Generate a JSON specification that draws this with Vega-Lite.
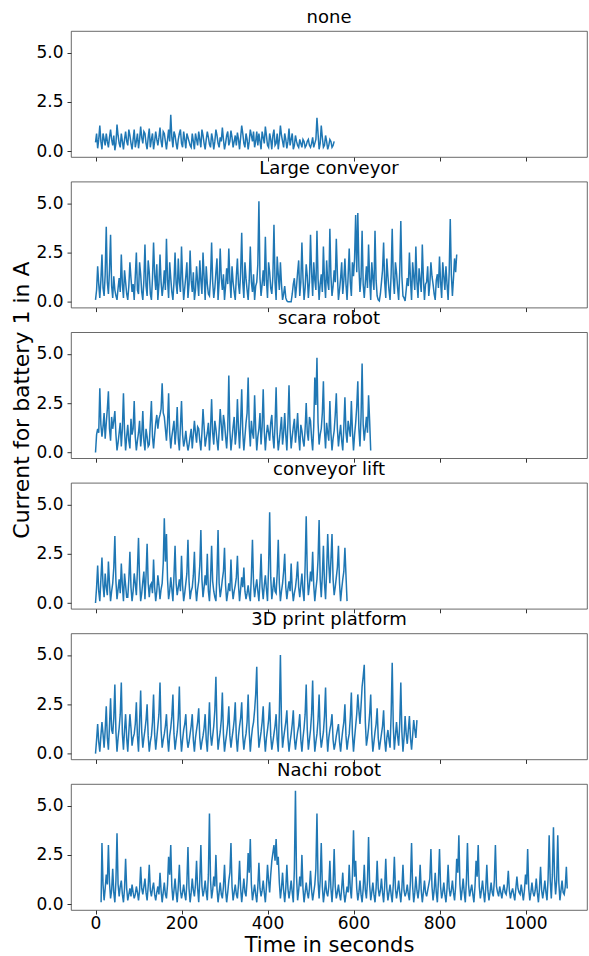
{
"$schema":"https://vega.github.io/schema/vega-lite/v6.json",
"padding":{"left":10,"top":8,"right":1,"bottom":0},
"bounds":"flush",
"spacing":24.6,
"background":"white",
"datasets":{
"none":[{"t":0,"v":0.45},{"t":2.5,"v":0.9},{"t":5,"v":0.15},{"t":7.5,"v":0.6},{"t":10,"v":1.3},{"t":12.5,"v":0.5},{"t":15,"v":0.1},{"t":17.5,"v":0.9},{"t":20,"v":0.6},{"t":22.5,"v":0.3},{"t":25,"v":0.9},{"t":27.5,"v":0.5},{"t":30,"v":0.2},{"t":32.5,"v":0.7},{"t":35,"v":1.1},{"t":37.5,"v":0.6},{"t":40,"v":0.3},{"t":42.5,"v":0.8},{"t":45,"v":0.05},{"t":47.5,"v":0.4},{"t":50,"v":1.35},{"t":52.5,"v":0.8},{"t":55,"v":0.4},{"t":57.5,"v":0.2},{"t":60,"v":0.9},{"t":62.5,"v":0.5},{"t":65,"v":0.1},{"t":67.5,"v":0.6},{"t":70,"v":1.0},{"t":72.5,"v":0.5},{"t":75,"v":0.3},{"t":77.5,"v":1.1},{"t":80,"v":0.8},{"t":82.5,"v":0.4},{"t":85,"v":0.1},{"t":87.5,"v":0.6},{"t":90,"v":1.1},{"t":92.5,"v":0.2},{"t":95,"v":0.5},{"t":97.5,"v":0.9},{"t":100,"v":0.15},{"t":102.5,"v":0.6},{"t":105,"v":1.25},{"t":107.5,"v":0.7},{"t":110,"v":0.4},{"t":112.5,"v":1.0},{"t":115,"v":0.9},{"t":117.5,"v":0.4},{"t":120,"v":0.1},{"t":122.5,"v":0.7},{"t":125,"v":1.15},{"t":127.5,"v":0.2},{"t":130,"v":0.6},{"t":132.5,"v":0.9},{"t":135,"v":0.1},{"t":137.5,"v":0.5},{"t":140,"v":1.0},{"t":142.5,"v":0.6},{"t":145,"v":0.3},{"t":147.5,"v":0.7},{"t":150,"v":1.2},{"t":152.5,"v":0.5},{"t":155,"v":0.2},{"t":157.5,"v":1.0},{"t":160,"v":0.9},{"t":162.5,"v":0.5},{"t":165,"v":0.1},{"t":167.5,"v":0.6},{"t":170,"v":1.1},{"t":172.5,"v":0.5},{"t":175,"v":1.85},{"t":177.5,"v":0.7},{"t":180,"v":0.2},{"t":182.5,"v":1.0},{"t":185,"v":0.8},{"t":187.5,"v":0.4},{"t":190,"v":0.1},{"t":192.5,"v":0.6},{"t":195,"v":0.9},{"t":197.5,"v":1.1},{"t":200,"v":0.4},{"t":202.5,"v":0.2},{"t":205,"v":1.0},{"t":207.5,"v":0.6},{"t":210,"v":0.15},{"t":212.5,"v":0.9},{"t":215,"v":0.7},{"t":217.5,"v":0.5},{"t":220,"v":0.3},{"t":222.5,"v":0.2},{"t":225,"v":0.9},{"t":227.5,"v":0.5},{"t":230,"v":0.1},{"t":232.5,"v":0.9},{"t":235,"v":0.6},{"t":237.5,"v":0.3},{"t":240,"v":1.0},{"t":242.5,"v":0.6},{"t":245,"v":0.2},{"t":247.5,"v":1.1},{"t":250,"v":0.8},{"t":252.5,"v":0.4},{"t":255,"v":0.1},{"t":257.5,"v":0.6},{"t":260,"v":1.0},{"t":262.5,"v":0.7},{"t":265,"v":0.35},{"t":267.5,"v":0.2},{"t":270,"v":0.9},{"t":272.5,"v":0.6},{"t":275,"v":0.1},{"t":277.5,"v":0.5},{"t":280,"v":1.1},{"t":282.5,"v":0.8},{"t":285,"v":0.4},{"t":287.5,"v":0.2},{"t":290,"v":0.7},{"t":292.5,"v":0.5},{"t":295,"v":1.2},{"t":297.5,"v":0.6},{"t":300,"v":0.1},{"t":302.5,"v":0.4},{"t":305,"v":0.8},{"t":307.5,"v":1.0},{"t":310,"v":0.3},{"t":312.5,"v":0.5},{"t":315,"v":1.05},{"t":317.5,"v":0.7},{"t":320,"v":0.2},{"t":322.5,"v":0.5},{"t":325,"v":0.8},{"t":327.5,"v":0.3},{"t":330,"v":0.95},{"t":332.5,"v":0.6},{"t":335,"v":0.1},{"t":337.5,"v":0.7},{"t":340,"v":1.3},{"t":342.5,"v":0.9},{"t":345,"v":0.4},{"t":347.5,"v":0.2},{"t":350,"v":0.9},{"t":352.5,"v":0.6},{"t":355,"v":0.1},{"t":357.5,"v":0.5},{"t":360,"v":1.1},{"t":362.5,"v":0.8},{"t":365,"v":0.5},{"t":367.5,"v":1.0},{"t":370,"v":0.2},{"t":372.5,"v":0.5},{"t":375,"v":1.0},{"t":377.5,"v":0.3},{"t":380,"v":0.9},{"t":382.5,"v":0.5},{"t":385,"v":0.1},{"t":387.5,"v":1.0},{"t":390,"v":0.7},{"t":392.5,"v":0.4},{"t":395,"v":1.25},{"t":397.5,"v":0.8},{"t":400,"v":0.3},{"t":402.5,"v":0.2},{"t":405,"v":0.9},{"t":407.5,"v":0.6},{"t":410,"v":0.1},{"t":412.5,"v":0.8},{"t":415,"v":1.1},{"t":417.5,"v":0.3},{"t":420,"v":0.4},{"t":422.5,"v":0.9},{"t":425,"v":0.1},{"t":427.5,"v":0.6},{"t":430,"v":1.3},{"t":432.5,"v":0.8},{"t":435,"v":0.5},{"t":437.5,"v":0.2},{"t":440,"v":0.9},{"t":442.5,"v":0.6},{"t":445,"v":0.15},{"t":447.5,"v":0.5},{"t":450,"v":1.15},{"t":452.5,"v":0.3},{"t":455,"v":0.6},{"t":457.5,"v":0.9},{"t":460,"v":0.1},{"t":462.5,"v":0.3},{"t":465,"v":0.8},{"t":467.5,"v":0.5},{"t":470,"v":0.3},{"t":472.5,"v":0.2},{"t":475,"v":0.6},{"t":477.5,"v":0.4},{"t":480,"v":0.2},{"t":482.5,"v":0.6},{"t":485,"v":0.5},{"t":487.5,"v":0.2},{"t":490,"v":0.3},{"t":492.5,"v":0.5},{"t":495,"v":0.6},{"t":497.5,"v":0.3},{"t":500,"v":0.2},{"t":502.5,"v":0.4},{"t":505,"v":0.7},{"t":507.5,"v":0.2},{"t":510,"v":0.4},{"t":512.5,"v":0.6},{"t":515,"v":1.7},{"t":517.5,"v":0.9},{"t":520,"v":0.1},{"t":522.5,"v":0.4},{"t":525,"v":1.3},{"t":527.5,"v":0.7},{"t":530,"v":0.2},{"t":532.5,"v":0.3},{"t":535,"v":0.8},{"t":537.5,"v":0.5},{"t":540,"v":0.1},{"t":542.5,"v":0.3},{"t":545,"v":0.6},{"t":547.5,"v":0.5},{"t":550,"v":0.2},{"t":552.5,"v":0.3},{"t":555,"v":0.5}],
"lc":[{"t":0,"v":0.1},{"t":2.5,"v":0.6},{"t":5,"v":1.8},{"t":7.5,"v":0.9},{"t":10,"v":0.2},{"t":12.5,"v":1.1},{"t":15,"v":2.4},{"t":17.5,"v":0.7},{"t":20,"v":0.3},{"t":22.5,"v":1.4},{"t":25,"v":3.8},{"t":27.5,"v":1.0},{"t":30,"v":0.4},{"t":32.5,"v":1.6},{"t":35,"v":3.4},{"t":37.5,"v":0.8},{"t":40,"v":0.2},{"t":42.5,"v":1.3},{"t":45,"v":0.6},{"t":47.5,"v":0.3},{"t":50,"v":0.1},{"t":52.5,"v":0.7},{"t":55,"v":1.2},{"t":57.5,"v":0.5},{"t":60,"v":2.4},{"t":62.5,"v":0.9},{"t":65,"v":0.2},{"t":67.5,"v":1.6},{"t":70,"v":1.0},{"t":72.5,"v":0.4},{"t":75,"v":0.1},{"t":77.5,"v":0.8},{"t":80,"v":2.0},{"t":82.5,"v":1.2},{"t":85,"v":0.5},{"t":87.5,"v":0.9},{"t":90,"v":0.1},{"t":92.5,"v":1.3},{"t":95,"v":2.5},{"t":97.5,"v":0.6},{"t":100,"v":0.4},{"t":102.5,"v":2.0},{"t":105,"v":1.4},{"t":107.5,"v":0.5},{"t":110,"v":0.1},{"t":112.5,"v":1.1},{"t":115,"v":2.9},{"t":117.5,"v":0.8},{"t":120,"v":0.3},{"t":122.5,"v":2.1},{"t":125,"v":1.5},{"t":127.5,"v":0.4},{"t":130,"v":0.1},{"t":132.5,"v":1.2},{"t":135,"v":3.0},{"t":137.5,"v":1.4},{"t":140,"v":0.6},{"t":142.5,"v":1.9},{"t":145,"v":0.1},{"t":147.5,"v":0.9},{"t":150,"v":2.4},{"t":152.5,"v":1.0},{"t":155,"v":0.3},{"t":157.5,"v":0.8},{"t":160,"v":1.6},{"t":162.5,"v":0.6},{"t":165,"v":3.2},{"t":167.5,"v":1.1},{"t":170,"v":0.2},{"t":172.5,"v":2.0},{"t":175,"v":1.2},{"t":177.5,"v":0.5},{"t":180,"v":0.1},{"t":182.5,"v":1.0},{"t":185,"v":2.5},{"t":187.5,"v":0.9},{"t":190,"v":0.4},{"t":192.5,"v":2.2},{"t":195,"v":1.0},{"t":197.5,"v":0.5},{"t":200,"v":2.8},{"t":202.5,"v":1.2},{"t":205,"v":0.1},{"t":207.5,"v":0.7},{"t":210,"v":1.3},{"t":212.5,"v":2.0},{"t":215,"v":0.2},{"t":217.5,"v":0.9},{"t":220,"v":2.6},{"t":222.5,"v":1.1},{"t":225,"v":0.5},{"t":227.5,"v":1.5},{"t":230,"v":0.1},{"t":232.5,"v":0.6},{"t":235,"v":1.8},{"t":237.5,"v":1.0},{"t":240,"v":0.3},{"t":242.5,"v":2.1},{"t":245,"v":1.1},{"t":247.5,"v":0.4},{"t":250,"v":2.5},{"t":252.5,"v":1.3},{"t":255,"v":0.1},{"t":257.5,"v":1.8},{"t":260,"v":0.9},{"t":262.5,"v":0.4},{"t":265,"v":0.3},{"t":267.5,"v":1.2},{"t":270,"v":3.0},{"t":272.5,"v":1.0},{"t":275,"v":0.2},{"t":277.5,"v":0.7},{"t":280,"v":1.5},{"t":282.5,"v":2.2},{"t":285,"v":0.1},{"t":287.5,"v":1.0},{"t":290,"v":2.7},{"t":292.5,"v":1.2},{"t":295,"v":0.6},{"t":297.5,"v":1.4},{"t":300,"v":0.1},{"t":302.5,"v":0.8},{"t":305,"v":1.7},{"t":307.5,"v":0.9},{"t":310,"v":2.7},{"t":312.5,"v":1.1},{"t":315,"v":0.2},{"t":317.5,"v":1.8},{"t":320,"v":1.0},{"t":322.5,"v":0.5},{"t":325,"v":0.1},{"t":327.5,"v":1.3},{"t":330,"v":2.2},{"t":332.5,"v":0.9},{"t":335,"v":0.4},{"t":337.5,"v":1.5},{"t":340,"v":3.5},{"t":342.5,"v":1.0},{"t":345,"v":0.2},{"t":347.5,"v":2.0},{"t":350,"v":1.2},{"t":352.5,"v":0.6},{"t":355,"v":0.1},{"t":357.5,"v":1.1},{"t":360,"v":2.8},{"t":362.5,"v":1.0},{"t":365,"v":0.5},{"t":367.5,"v":1.4},{"t":370,"v":0.1},{"t":372.5,"v":0.8},{"t":375,"v":1.0},{"t":377.5,"v":1.9},{"t":380,"v":5.1},{"t":382.5,"v":1.2},{"t":385,"v":0.3},{"t":387.5,"v":0.9},{"t":390,"v":1.6},{"t":392.5,"v":0.8},{"t":395,"v":3.3},{"t":397.5,"v":1.1},{"t":400,"v":0.2},{"t":402.5,"v":2.0},{"t":405,"v":1.5},{"t":407.5,"v":0.7},{"t":410,"v":0.4},{"t":412.5,"v":1.3},{"t":415,"v":3.9},{"t":417.5,"v":1.0},{"t":420,"v":0.1},{"t":422.5,"v":2.3},{"t":425,"v":1.4},{"t":427.5,"v":0.6},{"t":430,"v":2.0},{"t":432.5,"v":0.9},{"t":435,"v":0.1},{"t":437.5,"v":0.4},{"t":440,"v":0.8},{"t":442.5,"v":0.2},{"t":445,"v":0.05},{"t":447.5,"v":0.0},{"t":450,"v":0.0},{"t":452.5,"v":0.0},{"t":455,"v":0.0},{"t":457.5,"v":0.4},{"t":460,"v":0.9},{"t":462.5,"v":1.2},{"t":465,"v":0.2},{"t":467.5,"v":0.8},{"t":470,"v":1.5},{"t":472.5,"v":2.1},{"t":475,"v":0.3},{"t":477.5,"v":1.0},{"t":480,"v":3.0},{"t":482.5,"v":1.2},{"t":485,"v":0.1},{"t":487.5,"v":0.7},{"t":490,"v":1.9},{"t":492.5,"v":1.3},{"t":495,"v":0.2},{"t":497.5,"v":1.0},{"t":500,"v":3.4},{"t":502.5,"v":1.5},{"t":505,"v":0.3},{"t":507.5,"v":2.0},{"t":510,"v":1.1},{"t":512.5,"v":0.6},{"t":515,"v":3.6},{"t":517.5,"v":1.2},{"t":520,"v":0.1},{"t":522.5,"v":0.9},{"t":525,"v":1.4},{"t":527.5,"v":0.5},{"t":530,"v":2.8},{"t":532.5,"v":1.1},{"t":535,"v":0.2},{"t":537.5,"v":2.1},{"t":540,"v":1.0},{"t":542.5,"v":0.6},{"t":545,"v":3.7},{"t":547.5,"v":1.3},{"t":550,"v":0.3},{"t":552.5,"v":0.8},{"t":555,"v":1.6},{"t":557.5,"v":1.0},{"t":560,"v":3.2},{"t":562.5,"v":1.4},{"t":565,"v":0.1},{"t":567.5,"v":0.6},{"t":570,"v":1.2},{"t":572.5,"v":2.0},{"t":575,"v":0.4},{"t":577.5,"v":1.1},{"t":580,"v":2.2},{"t":582.5,"v":0.9},{"t":585,"v":0.1},{"t":587.5,"v":1.3},{"t":590,"v":2.7},{"t":592.5,"v":1.0},{"t":595,"v":0.3},{"t":597.5,"v":2.0},{"t":600,"v":1.3},{"t":602.5,"v":2.2},{"t":605,"v":4.4},{"t":607.5,"v":1.5},{"t":610,"v":4.5},{"t":612.5,"v":1.8},{"t":615,"v":0.5},{"t":617.5,"v":1.2},{"t":620,"v":3.6},{"t":622.5,"v":0.9},{"t":625,"v":0.2},{"t":627.5,"v":1.0},{"t":630,"v":1.8},{"t":632.5,"v":0.7},{"t":635,"v":2.9},{"t":637.5,"v":1.2},{"t":640,"v":0.1},{"t":642.5,"v":2.0},{"t":645,"v":1.2},{"t":647.5,"v":0.6},{"t":650,"v":3.6},{"t":652.5,"v":1.1},{"t":655,"v":0.3},{"t":657.5,"v":0.1},{"t":660,"v":0.05},{"t":662.5,"v":0.4},{"t":665,"v":1.0},{"t":667.5,"v":1.6},{"t":670,"v":3.0},{"t":672.5,"v":1.0},{"t":675,"v":0.2},{"t":677.5,"v":2.2},{"t":680,"v":1.3},{"t":682.5,"v":0.6},{"t":685,"v":0.1},{"t":687.5,"v":1.4},{"t":690,"v":3.7},{"t":692.5,"v":1.2},{"t":695,"v":0.4},{"t":697.5,"v":2.0},{"t":700,"v":1.5},{"t":702.5,"v":0.7},{"t":705,"v":0.1},{"t":707.5,"v":1.5},{"t":710,"v":4.1},{"t":712.5,"v":1.3},{"t":715,"v":0.3},{"t":717.5,"v":0.2},{"t":720,"v":0.05},{"t":722.5,"v":0.6},{"t":725,"v":1.2},{"t":727.5,"v":0.8},{"t":730,"v":2.5},{"t":732.5,"v":1.1},{"t":735,"v":0.1},{"t":737.5,"v":2.0},{"t":740,"v":1.3},{"t":742.5,"v":0.6},{"t":745,"v":2.8},{"t":747.5,"v":1.0},{"t":750,"v":0.2},{"t":752.5,"v":1.7},{"t":755,"v":1.1},{"t":757.5,"v":0.5},{"t":760,"v":2.9},{"t":762.5,"v":1.2},{"t":765,"v":0.1},{"t":767.5,"v":0.9},{"t":770,"v":1.0},{"t":772.5,"v":1.8},{"t":775,"v":0.3},{"t":777.5,"v":0.9},{"t":780,"v":2.0},{"t":782.5,"v":1.3},{"t":785,"v":0.9},{"t":787.5,"v":0.4},{"t":790,"v":0.1},{"t":792.5,"v":1.1},{"t":795,"v":1.4},{"t":797.5,"v":0.7},{"t":800,"v":2.3},{"t":802.5,"v":1.0},{"t":805,"v":0.2},{"t":807.5,"v":2.0},{"t":810,"v":1.3},{"t":812.5,"v":0.6},{"t":815,"v":1.8},{"t":817.5,"v":0.9},{"t":820,"v":0.1},{"t":822.5,"v":1.5},{"t":825,"v":4.2},{"t":827.5,"v":1.4},{"t":830,"v":0.3},{"t":832.5,"v":1.2},{"t":835,"v":2.2},{"t":837.5,"v":1.5},{"t":840,"v":2.4}],
"sc":[{"t":0,"v":0.0},{"t":2.5,"v":0.9},{"t":5,"v":1.2},{"t":7.5,"v":1.0},{"t":10,"v":3.25},{"t":12.5,"v":1.4},{"t":15,"v":0.8},{"t":17.5,"v":1.3},{"t":20,"v":2.0},{"t":22.5,"v":0.7},{"t":25,"v":1.5},{"t":27.5,"v":2.2},{"t":30,"v":3.1},{"t":32.5,"v":1.2},{"t":35,"v":0.6},{"t":37.5,"v":1.8},{"t":40,"v":1.2},{"t":42.5,"v":1.6},{"t":45,"v":2.1},{"t":47.5,"v":0.9},{"t":50,"v":0.1},{"t":52.5,"v":0.5},{"t":55,"v":1.0},{"t":57.5,"v":1.5},{"t":60,"v":0.3},{"t":62.5,"v":1.2},{"t":65,"v":3.0},{"t":67.5,"v":1.1},{"t":70,"v":0.1},{"t":72.5,"v":0.8},{"t":75,"v":1.4},{"t":77.5,"v":0.6},{"t":80,"v":0.2},{"t":82.5,"v":1.7},{"t":85,"v":0.9},{"t":87.5,"v":1.2},{"t":90,"v":2.6},{"t":92.5,"v":0.8},{"t":95,"v":0.1},{"t":97.5,"v":0.6},{"t":100,"v":1.0},{"t":102.5,"v":1.6},{"t":105,"v":0.3},{"t":107.5,"v":0.9},{"t":110,"v":2.1},{"t":112.5,"v":0.6},{"t":115,"v":0.1},{"t":117.5,"v":1.2},{"t":120,"v":0.8},{"t":122.5,"v":0.3},{"t":125,"v":0.4},{"t":127.5,"v":1.5},{"t":130,"v":2.6},{"t":132.5,"v":0.8},{"t":135,"v":0.2},{"t":137.5,"v":0.9},{"t":140,"v":1.5},{"t":142.5,"v":1.9},{"t":145,"v":1.2},{"t":147.5,"v":1.7},{"t":150,"v":1.9},{"t":152.5,"v":2.2},{"t":155,"v":3.5},{"t":157.5,"v":2.0},{"t":160,"v":1.8},{"t":162.5,"v":1.2},{"t":165,"v":0.6},{"t":167.5,"v":1.5},{"t":170,"v":3.0},{"t":172.5,"v":1.0},{"t":175,"v":0.2},{"t":177.5,"v":0.8},{"t":180,"v":1.2},{"t":182.5,"v":1.6},{"t":185,"v":0.4},{"t":187.5,"v":1.1},{"t":190,"v":2.3},{"t":192.5,"v":0.7},{"t":195,"v":0.1},{"t":197.5,"v":1.3},{"t":200,"v":2.6},{"t":202.5,"v":0.9},{"t":205,"v":0.3},{"t":207.5,"v":0.6},{"t":210,"v":1.1},{"t":212.5,"v":0.5},{"t":215,"v":0.1},{"t":217.5,"v":0.4},{"t":220,"v":0.8},{"t":222.5,"v":1.2},{"t":225,"v":0.2},{"t":227.5,"v":0.9},{"t":230,"v":1.6},{"t":232.5,"v":1.0},{"t":235,"v":0.5},{"t":237.5,"v":1.3},{"t":240,"v":1.2},{"t":242.5,"v":0.6},{"t":245,"v":0.1},{"t":247.5,"v":1.0},{"t":250,"v":2.2},{"t":252.5,"v":1.3},{"t":255,"v":0.3},{"t":257.5,"v":0.7},{"t":260,"v":1.0},{"t":262.5,"v":1.5},{"t":265,"v":0.1},{"t":267.5,"v":1.2},{"t":270,"v":2.7},{"t":272.5,"v":1.0},{"t":275,"v":0.4},{"t":277.5,"v":1.6},{"t":280,"v":1.2},{"t":282.5,"v":0.6},{"t":285,"v":0.1},{"t":287.5,"v":1.1},{"t":290,"v":2.2},{"t":292.5,"v":1.4},{"t":295,"v":0.6},{"t":297.5,"v":1.9},{"t":300,"v":1.5},{"t":302.5,"v":0.8},{"t":305,"v":0.2},{"t":307.5,"v":1.2},{"t":310,"v":3.9},{"t":312.5,"v":1.1},{"t":315,"v":0.1},{"t":317.5,"v":0.7},{"t":320,"v":1.3},{"t":322.5,"v":1.8},{"t":325,"v":0.4},{"t":327.5,"v":1.0},{"t":330,"v":2.7},{"t":332.5,"v":1.2},{"t":335,"v":0.2},{"t":337.5,"v":1.5},{"t":340,"v":3.2},{"t":342.5,"v":1.0},{"t":345,"v":0.1},{"t":347.5,"v":0.8},{"t":350,"v":1.5},{"t":352.5,"v":2.0},{"t":355,"v":3.8},{"t":357.5,"v":1.3},{"t":360,"v":0.3},{"t":362.5,"v":1.6},{"t":365,"v":1.0},{"t":367.5,"v":0.7},{"t":370,"v":2.9},{"t":372.5,"v":1.2},{"t":375,"v":0.1},{"t":377.5,"v":0.8},{"t":380,"v":1.2},{"t":382.5,"v":2.0},{"t":385,"v":0.4},{"t":387.5,"v":1.3},{"t":390,"v":3.2},{"t":392.5,"v":1.1},{"t":395,"v":0.1},{"t":397.5,"v":0.9},{"t":400,"v":1.4},{"t":402.5,"v":1.0},{"t":405,"v":0.6},{"t":407.5,"v":1.5},{"t":410,"v":1.9},{"t":412.5,"v":0.8},{"t":415,"v":0.2},{"t":417.5,"v":1.4},{"t":420,"v":3.3},{"t":422.5,"v":1.0},{"t":425,"v":0.1},{"t":427.5,"v":0.6},{"t":430,"v":1.2},{"t":432.5,"v":1.8},{"t":435,"v":0.4},{"t":437.5,"v":1.0},{"t":440,"v":2.0},{"t":442.5,"v":0.9},{"t":445,"v":0.1},{"t":447.5,"v":1.5},{"t":450,"v":3.4},{"t":452.5,"v":1.2},{"t":455,"v":0.2},{"t":457.5,"v":0.8},{"t":460,"v":1.3},{"t":462.5,"v":1.7},{"t":465,"v":0.5},{"t":467.5,"v":1.1},{"t":470,"v":2.0},{"t":472.5,"v":0.8},{"t":475,"v":0.1},{"t":477.5,"v":1.4},{"t":480,"v":1.1},{"t":482.5,"v":0.6},{"t":485,"v":0.3},{"t":487.5,"v":1.2},{"t":490,"v":2.5},{"t":492.5,"v":1.0},{"t":495,"v":0.6},{"t":497.5,"v":1.8},{"t":500,"v":1.6},{"t":502.5,"v":0.7},{"t":505,"v":0.1},{"t":507.5,"v":1.3},{"t":510,"v":3.8},{"t":512.5,"v":2.4},{"t":515,"v":4.8},{"t":517.5,"v":1.5},{"t":520,"v":0.4},{"t":522.5,"v":0.9},{"t":525,"v":1.2},{"t":527.5,"v":2.0},{"t":530,"v":3.6},{"t":532.5,"v":1.1},{"t":535,"v":0.2},{"t":537.5,"v":1.5},{"t":540,"v":1.0},{"t":542.5,"v":0.6},{"t":545,"v":2.6},{"t":547.5,"v":1.0},{"t":550,"v":0.1},{"t":552.5,"v":0.7},{"t":555,"v":1.1},{"t":557.5,"v":1.9},{"t":560,"v":3.0},{"t":562.5,"v":1.2},{"t":565,"v":0.3},{"t":567.5,"v":0.9},{"t":570,"v":1.4},{"t":572.5,"v":0.6},{"t":575,"v":0.1},{"t":577.5,"v":1.3},{"t":580,"v":2.8},{"t":582.5,"v":1.0},{"t":585,"v":0.5},{"t":587.5,"v":1.6},{"t":590,"v":1.2},{"t":592.5,"v":0.8},{"t":595,"v":2.6},{"t":597.5,"v":1.1},{"t":600,"v":0.1},{"t":602.5,"v":0.9},{"t":605,"v":1.5},{"t":607.5,"v":2.3},{"t":610,"v":3.6},{"t":612.5,"v":1.2},{"t":615,"v":0.3},{"t":617.5,"v":1.8},{"t":620,"v":4.5},{"t":622.5,"v":1.4},{"t":625,"v":0.6},{"t":627.5,"v":1.2},{"t":630,"v":1.8},{"t":632.5,"v":1.0},{"t":635,"v":2.9},{"t":637.5,"v":1.6},{"t":640,"v":0.1}],
"cl":[{"t":0,"v":0.0},{"t":2.5,"v":0.8},{"t":5,"v":1.9},{"t":7.5,"v":0.6},{"t":10,"v":0.1},{"t":12.5,"v":1.2},{"t":15,"v":2.3},{"t":17.5,"v":0.9},{"t":20,"v":0.3},{"t":22.5,"v":1.5},{"t":25,"v":0.8},{"t":27.5,"v":0.4},{"t":30,"v":2.1},{"t":32.5,"v":1.0},{"t":35,"v":0.1},{"t":37.5,"v":0.6},{"t":40,"v":1.0},{"t":42.5,"v":1.8},{"t":45,"v":3.4},{"t":47.5,"v":1.1},{"t":50,"v":0.2},{"t":52.5,"v":0.7},{"t":55,"v":1.2},{"t":57.5,"v":0.5},{"t":60,"v":2.0},{"t":62.5,"v":0.9},{"t":65,"v":0.1},{"t":67.5,"v":1.5},{"t":70,"v":0.9},{"t":72.5,"v":0.3},{"t":75,"v":0.3},{"t":77.5,"v":1.2},{"t":80,"v":2.6},{"t":82.5,"v":0.8},{"t":85,"v":0.1},{"t":87.5,"v":0.6},{"t":90,"v":1.5},{"t":92.5,"v":1.0},{"t":95,"v":0.4},{"t":97.5,"v":1.7},{"t":100,"v":3.3},{"t":102.5,"v":1.2},{"t":105,"v":0.1},{"t":107.5,"v":0.5},{"t":110,"v":1.1},{"t":112.5,"v":1.6},{"t":115,"v":0.2},{"t":117.5,"v":1.4},{"t":120,"v":3.0},{"t":122.5,"v":1.0},{"t":125,"v":0.3},{"t":127.5,"v":0.9},{"t":130,"v":1.0},{"t":132.5,"v":0.5},{"t":135,"v":2.2},{"t":137.5,"v":0.8},{"t":140,"v":0.1},{"t":142.5,"v":0.6},{"t":145,"v":1.4},{"t":147.5,"v":0.9},{"t":150,"v":0.2},{"t":152.5,"v":0.7},{"t":155,"v":1.0},{"t":157.5,"v":2.0},{"t":160,"v":4.3},{"t":162.5,"v":2.1},{"t":165,"v":3.5},{"t":167.5,"v":1.2},{"t":170,"v":0.2},{"t":172.5,"v":0.6},{"t":175,"v":1.3},{"t":177.5,"v":0.7},{"t":180,"v":0.1},{"t":182.5,"v":1.4},{"t":185,"v":2.9},{"t":187.5,"v":1.0},{"t":190,"v":0.4},{"t":192.5,"v":0.8},{"t":195,"v":1.2},{"t":197.5,"v":0.6},{"t":200,"v":2.4},{"t":202.5,"v":0.9},{"t":205,"v":0.1},{"t":207.5,"v":0.5},{"t":210,"v":1.0},{"t":212.5,"v":1.5},{"t":215,"v":3.2},{"t":217.5,"v":1.1},{"t":220,"v":0.2},{"t":222.5,"v":0.6},{"t":225,"v":0.8},{"t":227.5,"v":1.4},{"t":230,"v":2.6},{"t":232.5,"v":0.8},{"t":235,"v":0.1},{"t":237.5,"v":0.7},{"t":240,"v":1.1},{"t":242.5,"v":1.9},{"t":245,"v":3.7},{"t":247.5,"v":1.2},{"t":250,"v":0.3},{"t":252.5,"v":0.8},{"t":255,"v":1.4},{"t":257.5,"v":0.9},{"t":260,"v":2.5},{"t":262.5,"v":0.6},{"t":265,"v":0.1},{"t":267.5,"v":1.2},{"t":270,"v":2.9},{"t":272.5,"v":1.1},{"t":275,"v":0.6},{"t":277.5,"v":0.3},{"t":280,"v":0.1},{"t":282.5,"v":1.5},{"t":285,"v":3.7},{"t":287.5,"v":1.0},{"t":290,"v":0.3},{"t":292.5,"v":0.7},{"t":295,"v":1.2},{"t":297.5,"v":1.6},{"t":300,"v":2.8},{"t":302.5,"v":0.9},{"t":305,"v":0.1},{"t":307.5,"v":0.5},{"t":310,"v":1.0},{"t":312.5,"v":0.6},{"t":315,"v":2.2},{"t":317.5,"v":0.8},{"t":320,"v":0.2},{"t":322.5,"v":0.6},{"t":325,"v":0.9},{"t":327.5,"v":1.3},{"t":330,"v":2.4},{"t":332.5,"v":0.9},{"t":335,"v":0.1},{"t":337.5,"v":0.7},{"t":340,"v":1.3},{"t":342.5,"v":0.8},{"t":345,"v":1.8},{"t":347.5,"v":0.6},{"t":350,"v":0.2},{"t":352.5,"v":0.5},{"t":355,"v":0.9},{"t":357.5,"v":0.4},{"t":360,"v":0.1},{"t":362.5,"v":1.4},{"t":365,"v":3.2},{"t":367.5,"v":1.0},{"t":370,"v":0.3},{"t":372.5,"v":0.8},{"t":375,"v":1.2},{"t":377.5,"v":0.6},{"t":380,"v":0.1},{"t":382.5,"v":1.1},{"t":385,"v":2.5},{"t":387.5,"v":0.8},{"t":390,"v":0.2},{"t":392.5,"v":0.9},{"t":395,"v":1.4},{"t":397.5,"v":0.7},{"t":400,"v":0.1},{"t":402.5,"v":1.8},{"t":405,"v":4.6},{"t":407.5,"v":1.3},{"t":410,"v":0.2},{"t":412.5,"v":0.7},{"t":415,"v":1.3},{"t":417.5,"v":0.6},{"t":420,"v":0.5},{"t":422.5,"v":1.5},{"t":425,"v":3.2},{"t":427.5,"v":1.0},{"t":430,"v":0.1},{"t":432.5,"v":0.6},{"t":435,"v":1.0},{"t":437.5,"v":1.6},{"t":440,"v":2.5},{"t":442.5,"v":0.8},{"t":445,"v":0.2},{"t":447.5,"v":0.7},{"t":450,"v":1.1},{"t":452.5,"v":0.6},{"t":455,"v":2.0},{"t":457.5,"v":0.7},{"t":460,"v":0.1},{"t":462.5,"v":0.5},{"t":465,"v":0.8},{"t":467.5,"v":1.3},{"t":470,"v":2.1},{"t":472.5,"v":0.8},{"t":475,"v":0.3},{"t":477.5,"v":0.9},{"t":480,"v":1.5},{"t":482.5,"v":0.6},{"t":485,"v":0.1},{"t":487.5,"v":1.9},{"t":490,"v":4.4},{"t":492.5,"v":1.5},{"t":495,"v":0.4},{"t":497.5,"v":0.9},{"t":500,"v":1.6},{"t":502.5,"v":1.1},{"t":505,"v":2.6},{"t":507.5,"v":0.9},{"t":510,"v":0.1},{"t":512.5,"v":0.7},{"t":515,"v":1.2},{"t":517.5,"v":2.2},{"t":520,"v":4.2},{"t":522.5,"v":1.2},{"t":525,"v":0.3},{"t":527.5,"v":1.4},{"t":530,"v":2.9},{"t":532.5,"v":1.0},{"t":535,"v":0.2},{"t":537.5,"v":1.6},{"t":540,"v":3.5},{"t":542.5,"v":2.0},{"t":545,"v":1.0},{"t":547.5,"v":2.2},{"t":550,"v":3.5},{"t":552.5,"v":1.2},{"t":555,"v":0.4},{"t":557.5,"v":0.8},{"t":560,"v":1.3},{"t":562.5,"v":1.8},{"t":565,"v":2.9},{"t":567.5,"v":1.0},{"t":570,"v":0.1},{"t":572.5,"v":0.7},{"t":575,"v":1.2},{"t":577.5,"v":1.6},{"t":580,"v":2.8},{"t":582.5,"v":1.4},{"t":585,"v":0.1}],
"p3d":[{"t":0,"v":0.0},{"t":2.5,"v":0.7},{"t":5,"v":1.5},{"t":7.5,"v":0.6},{"t":10,"v":0.1},{"t":12.5,"v":0.9},{"t":15,"v":1.6},{"t":17.5,"v":1.0},{"t":20,"v":0.3},{"t":22.5,"v":1.2},{"t":25,"v":2.4},{"t":27.5,"v":0.8},{"t":30,"v":0.2},{"t":32.5,"v":1.4},{"t":35,"v":2.8},{"t":37.5,"v":1.2},{"t":40,"v":1.0},{"t":42.5,"v":1.8},{"t":45,"v":3.5},{"t":47.5,"v":1.1},{"t":50,"v":0.1},{"t":52.5,"v":0.8},{"t":55,"v":1.3},{"t":57.5,"v":2.0},{"t":60,"v":3.6},{"t":62.5,"v":1.0},{"t":65,"v":0.2},{"t":67.5,"v":1.2},{"t":70,"v":2.0},{"t":72.5,"v":0.8},{"t":75,"v":0.1},{"t":77.5,"v":1.1},{"t":80,"v":2.0},{"t":82.5,"v":1.3},{"t":85,"v":0.4},{"t":87.5,"v":0.8},{"t":90,"v":1.0},{"t":92.5,"v":1.5},{"t":95,"v":2.6},{"t":97.5,"v":0.9},{"t":100,"v":0.1},{"t":102.5,"v":1.6},{"t":105,"v":3.2},{"t":107.5,"v":1.1},{"t":110,"v":0.3},{"t":112.5,"v":0.8},{"t":115,"v":1.2},{"t":117.5,"v":1.7},{"t":120,"v":2.5},{"t":122.5,"v":0.9},{"t":125,"v":0.1},{"t":127.5,"v":0.6},{"t":130,"v":0.9},{"t":132.5,"v":1.6},{"t":135,"v":3.0},{"t":137.5,"v":1.0},{"t":140,"v":0.2},{"t":142.5,"v":0.8},{"t":145,"v":1.4},{"t":147.5,"v":2.0},{"t":150,"v":3.6},{"t":152.5,"v":1.2},{"t":155,"v":0.3},{"t":157.5,"v":0.7},{"t":160,"v":1.0},{"t":162.5,"v":1.4},{"t":165,"v":2.0},{"t":167.5,"v":0.8},{"t":170,"v":0.1},{"t":172.5,"v":0.9},{"t":175,"v":1.3},{"t":177.5,"v":1.9},{"t":180,"v":3.0},{"t":182.5,"v":1.0},{"t":185,"v":0.2},{"t":187.5,"v":0.7},{"t":190,"v":1.1},{"t":192.5,"v":1.8},{"t":195,"v":3.4},{"t":197.5,"v":1.0},{"t":200,"v":0.1},{"t":202.5,"v":0.7},{"t":205,"v":1.2},{"t":207.5,"v":1.5},{"t":210,"v":2.0},{"t":212.5,"v":0.8},{"t":215,"v":0.3},{"t":217.5,"v":0.6},{"t":220,"v":1.0},{"t":222.5,"v":1.4},{"t":225,"v":2.0},{"t":227.5,"v":0.7},{"t":230,"v":0.1},{"t":232.5,"v":0.8},{"t":235,"v":1.2},{"t":237.5,"v":1.6},{"t":240,"v":2.3},{"t":242.5,"v":0.8},{"t":245,"v":0.2},{"t":247.5,"v":0.6},{"t":250,"v":0.9},{"t":252.5,"v":1.3},{"t":255,"v":2.0},{"t":257.5,"v":0.7},{"t":260,"v":0.1},{"t":262.5,"v":1.2},{"t":265,"v":2.6},{"t":267.5,"v":1.0},{"t":270,"v":0.4},{"t":272.5,"v":0.9},{"t":275,"v":1.4},{"t":277.5,"v":2.2},{"t":280,"v":3.9},{"t":282.5,"v":1.3},{"t":285,"v":0.2},{"t":287.5,"v":0.7},{"t":290,"v":1.1},{"t":292.5,"v":1.7},{"t":295,"v":3.1},{"t":297.5,"v":1.0},{"t":300,"v":0.1},{"t":302.5,"v":0.6},{"t":305,"v":1.0},{"t":307.5,"v":1.5},{"t":310,"v":2.4},{"t":312.5,"v":0.9},{"t":315,"v":0.3},{"t":317.5,"v":0.8},{"t":320,"v":1.2},{"t":322.5,"v":1.7},{"t":325,"v":2.6},{"t":327.5,"v":0.8},{"t":330,"v":0.1},{"t":332.5,"v":0.9},{"t":335,"v":1.4},{"t":337.5,"v":1.8},{"t":340,"v":2.6},{"t":342.5,"v":0.9},{"t":345,"v":0.2},{"t":347.5,"v":0.7},{"t":350,"v":1.0},{"t":352.5,"v":1.6},{"t":355,"v":3.0},{"t":357.5,"v":1.1},{"t":360,"v":0.1},{"t":362.5,"v":0.8},{"t":365,"v":1.3},{"t":367.5,"v":1.6},{"t":370,"v":2.2},{"t":372.5,"v":3.0},{"t":375,"v":4.4},{"t":377.5,"v":1.5},{"t":380,"v":0.3},{"t":382.5,"v":0.7},{"t":385,"v":1.1},{"t":387.5,"v":1.6},{"t":390,"v":2.4},{"t":392.5,"v":0.9},{"t":395,"v":0.1},{"t":397.5,"v":0.8},{"t":400,"v":1.2},{"t":402.5,"v":1.7},{"t":405,"v":2.6},{"t":407.5,"v":0.9},{"t":410,"v":0.2},{"t":412.5,"v":0.6},{"t":415,"v":1.0},{"t":417.5,"v":1.4},{"t":420,"v":2.0},{"t":422.5,"v":0.7},{"t":425,"v":0.1},{"t":427.5,"v":2.0},{"t":430,"v":5.0},{"t":432.5,"v":1.6},{"t":435,"v":0.3},{"t":437.5,"v":0.8},{"t":440,"v":1.2},{"t":442.5,"v":1.6},{"t":445,"v":2.2},{"t":447.5,"v":0.8},{"t":450,"v":0.1},{"t":452.5,"v":0.6},{"t":455,"v":1.0},{"t":457.5,"v":1.5},{"t":460,"v":2.2},{"t":462.5,"v":0.8},{"t":465,"v":0.2},{"t":467.5,"v":0.7},{"t":470,"v":1.1},{"t":472.5,"v":1.4},{"t":475,"v":2.0},{"t":477.5,"v":0.7},{"t":480,"v":0.1},{"t":482.5,"v":0.8},{"t":485,"v":1.3},{"t":487.5,"v":2.0},{"t":490,"v":3.5},{"t":492.5,"v":1.2},{"t":495,"v":0.2},{"t":497.5,"v":0.7},{"t":500,"v":1.2},{"t":502.5,"v":2.0},{"t":505,"v":3.7},{"t":507.5,"v":1.2},{"t":510,"v":0.1},{"t":512.5,"v":0.6},{"t":515,"v":1.0},{"t":517.5,"v":1.7},{"t":520,"v":3.0},{"t":522.5,"v":1.0},{"t":525,"v":0.3},{"t":527.5,"v":0.7},{"t":530,"v":1.1},{"t":532.5,"v":1.9},{"t":535,"v":3.35},{"t":537.5,"v":1.1},{"t":540,"v":0.1},{"t":542.5,"v":0.8},{"t":545,"v":1.2},{"t":547.5,"v":1.5},{"t":550,"v":2.0},{"t":552.5,"v":0.7},{"t":555,"v":0.2},{"t":557.5,"v":0.5},{"t":560,"v":0.9},{"t":562.5,"v":1.2},{"t":565,"v":1.5},{"t":567.5,"v":0.6},{"t":570,"v":0.1},{"t":572.5,"v":0.7},{"t":575,"v":1.2},{"t":577.5,"v":1.6},{"t":580,"v":2.5},{"t":582.5,"v":0.9},{"t":585,"v":0.2},{"t":587.5,"v":0.7},{"t":590,"v":1.0},{"t":592.5,"v":1.8},{"t":595,"v":3.1},{"t":597.5,"v":1.0},{"t":600,"v":0.1},{"t":602.5,"v":0.8},{"t":605,"v":1.4},{"t":607.5,"v":2.0},{"t":610,"v":3.0},{"t":612.5,"v":2.2},{"t":615,"v":1.5},{"t":617.5,"v":2.4},{"t":620,"v":3.4},{"t":622.5,"v":3.9},{"t":625,"v":4.5},{"t":627.5,"v":1.6},{"t":630,"v":0.4},{"t":632.5,"v":0.8},{"t":635,"v":1.3},{"t":637.5,"v":2.0},{"t":640,"v":3.0},{"t":642.5,"v":1.0},{"t":645,"v":0.1},{"t":647.5,"v":0.6},{"t":650,"v":1.1},{"t":652.5,"v":1.5},{"t":655,"v":2.3},{"t":657.5,"v":0.8},{"t":660,"v":0.2},{"t":662.5,"v":0.6},{"t":665,"v":1.0},{"t":667.5,"v":1.4},{"t":670,"v":2.2},{"t":672.5,"v":0.7},{"t":675,"v":0.1},{"t":677.5,"v":0.8},{"t":680,"v":1.2},{"t":682.5,"v":0.7},{"t":685,"v":0.3},{"t":687.5,"v":2.0},{"t":690,"v":4.6},{"t":692.5,"v":1.4},{"t":695,"v":0.2},{"t":697.5,"v":0.9},{"t":700,"v":1.6},{"t":702.5,"v":0.9},{"t":705,"v":0.4},{"t":707.5,"v":1.5},{"t":710,"v":3.6},{"t":712.5,"v":1.1},{"t":715,"v":0.1},{"t":717.5,"v":0.8},{"t":720,"v":1.9},{"t":722.5,"v":1.0},{"t":725,"v":0.5},{"t":727.5,"v":1.2},{"t":730,"v":1.9},{"t":732.5,"v":0.8},{"t":735,"v":0.2},{"t":737.5,"v":0.9},{"t":740,"v":1.7},{"t":742.5,"v":1.2},{"t":745,"v":0.8},{"t":747.5,"v":1.7}],
"na":[{"t":13,"v":0.1},{"t":15,"v":3.1},{"t":17.5,"v":1.0},{"t":20,"v":0.2},{"t":22.5,"v":0.8},{"t":25,"v":1.5},{"t":27.5,"v":1.0},{"t":30,"v":3.0},{"t":32.5,"v":1.1},{"t":35,"v":0.3},{"t":37.5,"v":0.7},{"t":40,"v":1.8},{"t":42.5,"v":0.6},{"t":45,"v":0.1},{"t":47.5,"v":1.2},{"t":50,"v":3.6},{"t":52.5,"v":1.0},{"t":55,"v":0.4},{"t":57.5,"v":0.9},{"t":60,"v":1.2},{"t":62.5,"v":0.5},{"t":65,"v":0.1},{"t":67.5,"v":0.8},{"t":70,"v":2.3},{"t":72.5,"v":0.8},{"t":75,"v":0.2},{"t":77.5,"v":0.5},{"t":80,"v":0.8},{"t":82.5,"v":0.4},{"t":85,"v":1.0},{"t":87.5,"v":0.6},{"t":90,"v":0.3},{"t":92.5,"v":0.5},{"t":95,"v":0.9},{"t":97.5,"v":0.6},{"t":100,"v":0.2},{"t":102.5,"v":0.7},{"t":105,"v":1.9},{"t":107.5,"v":0.8},{"t":110,"v":0.5},{"t":112.5,"v":0.9},{"t":115,"v":1.3},{"t":117.5,"v":0.6},{"t":120,"v":0.2},{"t":122.5,"v":0.9},{"t":125,"v":2.0},{"t":127.5,"v":0.7},{"t":130,"v":0.4},{"t":132.5,"v":0.8},{"t":135,"v":1.1},{"t":137.5,"v":0.5},{"t":140,"v":0.2},{"t":142.5,"v":0.6},{"t":145,"v":0.9},{"t":147.5,"v":0.5},{"t":150,"v":1.6},{"t":152.5,"v":0.7},{"t":155,"v":0.1},{"t":157.5,"v":0.6},{"t":160,"v":1.1},{"t":162.5,"v":0.5},{"t":165,"v":0.3},{"t":167.5,"v":1.0},{"t":170,"v":2.4},{"t":172.5,"v":1.5},{"t":175,"v":3.0},{"t":177.5,"v":0.9},{"t":180,"v":0.2},{"t":182.5,"v":0.7},{"t":185,"v":1.3},{"t":187.5,"v":0.6},{"t":190,"v":0.1},{"t":192.5,"v":0.9},{"t":195,"v":2.0},{"t":197.5,"v":0.7},{"t":200,"v":0.3},{"t":202.5,"v":0.6},{"t":205,"v":1.0},{"t":207.5,"v":0.5},{"t":210,"v":0.2},{"t":212.5,"v":1.1},{"t":215,"v":2.9},{"t":217.5,"v":0.8},{"t":220,"v":0.1},{"t":222.5,"v":0.6},{"t":225,"v":1.3},{"t":227.5,"v":0.7},{"t":230,"v":0.4},{"t":232.5,"v":1.0},{"t":235,"v":2.2},{"t":237.5,"v":0.8},{"t":240,"v":0.1},{"t":242.5,"v":1.2},{"t":245,"v":3.0},{"t":247.5,"v":0.9},{"t":250,"v":0.4},{"t":252.5,"v":0.7},{"t":255,"v":1.2},{"t":257.5,"v":0.6},{"t":260,"v":0.2},{"t":262.5,"v":1.5},{"t":265,"v":4.6},{"t":267.5,"v":1.2},{"t":270,"v":0.3},{"t":272.5,"v":0.7},{"t":275,"v":1.4},{"t":277.5,"v":0.9},{"t":280,"v":2.5},{"t":282.5,"v":0.8},{"t":285,"v":0.1},{"t":287.5,"v":0.6},{"t":290,"v":1.1},{"t":292.5,"v":0.5},{"t":295,"v":0.3},{"t":297.5,"v":0.9},{"t":300,"v":2.0},{"t":302.5,"v":0.7},{"t":305,"v":0.1},{"t":307.5,"v":0.6},{"t":310,"v":1.2},{"t":312.5,"v":1.6},{"t":315,"v":3.1},{"t":317.5,"v":0.9},{"t":320,"v":0.2},{"t":322.5,"v":0.6},{"t":325,"v":1.0},{"t":327.5,"v":0.5},{"t":330,"v":0.3},{"t":332.5,"v":1.0},{"t":335,"v":2.2},{"t":337.5,"v":0.8},{"t":340,"v":0.1},{"t":342.5,"v":0.7},{"t":345,"v":1.3},{"t":347.5,"v":0.6},{"t":350,"v":0.4},{"t":352.5,"v":1.2},{"t":355,"v":2.6},{"t":357.5,"v":1.6},{"t":360,"v":3.3},{"t":362.5,"v":1.0},{"t":365,"v":0.2},{"t":367.5,"v":0.6},{"t":370,"v":1.0},{"t":372.5,"v":0.5},{"t":375,"v":0.1},{"t":377.5,"v":0.9},{"t":380,"v":2.1},{"t":382.5,"v":0.8},{"t":385,"v":0.4},{"t":387.5,"v":0.7},{"t":390,"v":1.2},{"t":392.5,"v":0.6},{"t":395,"v":0.1},{"t":397.5,"v":0.9},{"t":400,"v":2.0},{"t":402.5,"v":1.2},{"t":405,"v":0.6},{"t":407.5,"v":1.5},{"t":410,"v":2.2},{"t":412.5,"v":2.6},{"t":415,"v":3.0},{"t":417.5,"v":2.2},{"t":420,"v":3.3},{"t":422.5,"v":2.0},{"t":425,"v":2.4},{"t":427.5,"v":1.1},{"t":430,"v":0.3},{"t":432.5,"v":0.8},{"t":435,"v":1.6},{"t":437.5,"v":0.7},{"t":440,"v":0.1},{"t":442.5,"v":0.8},{"t":445,"v":2.0},{"t":447.5,"v":0.8},{"t":450,"v":0.3},{"t":452.5,"v":0.7},{"t":455,"v":1.2},{"t":457.5,"v":0.6},{"t":460,"v":0.1},{"t":462.5,"v":1.8},{"t":465,"v":5.75},{"t":467.5,"v":1.4},{"t":470,"v":0.2},{"t":472.5,"v":0.7},{"t":475,"v":1.4},{"t":477.5,"v":0.9},{"t":480,"v":2.5},{"t":482.5,"v":0.8},{"t":485,"v":0.1},{"t":487.5,"v":0.6},{"t":490,"v":1.1},{"t":492.5,"v":0.6},{"t":495,"v":0.3},{"t":497.5,"v":0.8},{"t":500,"v":1.7},{"t":502.5,"v":0.7},{"t":505,"v":0.2},{"t":507.5,"v":0.6},{"t":510,"v":1.0},{"t":512.5,"v":1.8},{"t":515,"v":4.6},{"t":517.5,"v":1.2},{"t":520,"v":0.3},{"t":522.5,"v":1.2},{"t":525,"v":3.1},{"t":527.5,"v":0.9},{"t":530,"v":0.1},{"t":532.5,"v":0.6},{"t":535,"v":1.2},{"t":537.5,"v":0.6},{"t":540,"v":0.4},{"t":542.5,"v":0.9},{"t":545,"v":2.2},{"t":547.5,"v":0.8},{"t":550,"v":0.1},{"t":552.5,"v":1.0},{"t":555,"v":2.8},{"t":557.5,"v":0.9},{"t":560,"v":0.3},{"t":562.5,"v":0.6},{"t":565,"v":1.0},{"t":567.5,"v":0.5},{"t":570,"v":0.2},{"t":572.5,"v":0.8},{"t":575,"v":1.6},{"t":577.5,"v":0.6},{"t":580,"v":0.1},{"t":582.5,"v":0.5},{"t":585,"v":0.9},{"t":587.5,"v":0.6},{"t":590,"v":2.0},{"t":592.5,"v":0.8},{"t":595,"v":0.3},{"t":597.5,"v":1.5},{"t":600,"v":3.75},{"t":602.5,"v":1.4},{"t":605,"v":2.2},{"t":607.5,"v":0.8},{"t":610,"v":0.2},{"t":612.5,"v":0.6},{"t":615,"v":1.2},{"t":617.5,"v":0.5},{"t":620,"v":0.1},{"t":622.5,"v":0.8},{"t":625,"v":2.0},{"t":627.5,"v":0.7},{"t":630,"v":0.3},{"t":632.5,"v":1.2},{"t":635,"v":3.4},{"t":637.5,"v":1.0},{"t":640,"v":0.2},{"t":642.5,"v":0.6},{"t":645,"v":1.1},{"t":647.5,"v":0.5},{"t":650,"v":0.1},{"t":652.5,"v":0.8},{"t":655,"v":2.2},{"t":657.5,"v":0.8},{"t":660,"v":0.4},{"t":662.5,"v":0.7},{"t":665,"v":1.3},{"t":667.5,"v":0.6},{"t":670,"v":0.1},{"t":672.5,"v":0.9},{"t":675,"v":2.3},{"t":677.5,"v":0.8},{"t":680,"v":0.2},{"t":682.5,"v":0.6},{"t":685,"v":1.0},{"t":687.5,"v":0.5},{"t":690,"v":0.1},{"t":692.5,"v":1.0},{"t":695,"v":2.4},{"t":697.5,"v":0.8},{"t":700,"v":0.3},{"t":702.5,"v":0.7},{"t":705,"v":1.2},{"t":707.5,"v":0.6},{"t":710,"v":0.1},{"t":712.5,"v":0.8},{"t":715,"v":2.0},{"t":717.5,"v":0.7},{"t":720,"v":0.4},{"t":722.5,"v":0.6},{"t":725,"v":1.0},{"t":727.5,"v":0.5},{"t":730,"v":0.2},{"t":732.5,"v":1.2},{"t":735,"v":3.1},{"t":737.5,"v":0.9},{"t":740,"v":0.1},{"t":742.5,"v":0.6},{"t":745,"v":1.4},{"t":747.5,"v":0.7},{"t":750,"v":0.3},{"t":752.5,"v":0.8},{"t":755,"v":2.0},{"t":757.5,"v":0.7},{"t":760,"v":0.1},{"t":762.5,"v":0.6},{"t":765,"v":1.2},{"t":767.5,"v":0.6},{"t":770,"v":0.4},{"t":772.5,"v":0.7},{"t":775,"v":1.0},{"t":777.5,"v":1.3},{"t":780,"v":2.8},{"t":782.5,"v":0.9},{"t":785,"v":0.2},{"t":787.5,"v":0.7},{"t":790,"v":1.6},{"t":792.5,"v":0.6},{"t":795,"v":0.1},{"t":797.5,"v":1.2},{"t":800,"v":2.8},{"t":802.5,"v":0.9},{"t":805,"v":0.3},{"t":807.5,"v":0.6},{"t":810,"v":1.1},{"t":812.5,"v":0.5},{"t":815,"v":0.1},{"t":817.5,"v":0.8},{"t":820,"v":2.0},{"t":822.5,"v":0.8},{"t":825,"v":0.4},{"t":827.5,"v":0.7},{"t":830,"v":1.2},{"t":832.5,"v":0.6},{"t":835,"v":0.2},{"t":837.5,"v":0.9},{"t":840,"v":2.3},{"t":842.5,"v":1.6},{"t":845,"v":3.5},{"t":847.5,"v":1.0},{"t":850,"v":0.2},{"t":852.5,"v":0.7},{"t":855,"v":1.3},{"t":857.5,"v":0.6},{"t":860,"v":0.1},{"t":862.5,"v":1.2},{"t":865,"v":3.1},{"t":867.5,"v":1.0},{"t":870,"v":0.4},{"t":872.5,"v":0.7},{"t":875,"v":1.0},{"t":877.5,"v":0.5},{"t":880,"v":0.1},{"t":882.5,"v":0.9},{"t":885,"v":2.2},{"t":887.5,"v":1.4},{"t":890,"v":3.0},{"t":892.5,"v":0.9},{"t":895,"v":0.3},{"t":897.5,"v":0.7},{"t":900,"v":1.2},{"t":902.5,"v":0.6},{"t":905,"v":0.1},{"t":907.5,"v":0.8},{"t":910,"v":2.0},{"t":912.5,"v":0.7},{"t":915,"v":0.2},{"t":917.5,"v":0.6},{"t":920,"v":1.1},{"t":922.5,"v":0.6},{"t":925,"v":0.4},{"t":927.5,"v":1.2},{"t":930,"v":3.0},{"t":932.5,"v":0.9},{"t":935,"v":0.6},{"t":937.5,"v":0.4},{"t":940,"v":0.9},{"t":942.5,"v":0.6},{"t":945,"v":0.3},{"t":947.5,"v":0.7},{"t":950,"v":1.0},{"t":952.5,"v":0.6},{"t":955,"v":0.5},{"t":957.5,"v":0.9},{"t":960,"v":1.7},{"t":962.5,"v":0.7},{"t":965,"v":0.3},{"t":967.5,"v":0.6},{"t":970,"v":0.8},{"t":972.5,"v":0.5},{"t":975,"v":0.2},{"t":977.5,"v":0.8},{"t":980,"v":1.4},{"t":982.5,"v":0.8},{"t":985,"v":0.6},{"t":987.5,"v":0.5},{"t":990,"v":1.0},{"t":992.5,"v":0.6},{"t":995,"v":0.2},{"t":997.5,"v":0.7},{"t":1000,"v":1.5},{"t":1002.5,"v":1.0},{"t":1005,"v":2.8},{"t":1007.5,"v":0.8},{"t":1010,"v":0.2},{"t":1012.5,"v":0.6},{"t":1015,"v":1.1},{"t":1017.5,"v":0.6},{"t":1020,"v":0.4},{"t":1022.5,"v":0.7},{"t":1025,"v":1.3},{"t":1027.5,"v":0.6},{"t":1030,"v":0.1},{"t":1032.5,"v":0.8},{"t":1035,"v":1.9},{"t":1037.5,"v":0.7},{"t":1040,"v":0.3},{"t":1042.5,"v":0.7},{"t":1045,"v":1.2},{"t":1047.5,"v":0.6},{"t":1050,"v":0.2},{"t":1052.5,"v":1.3},{"t":1055,"v":3.5},{"t":1057.5,"v":1.2},{"t":1060,"v":0.3},{"t":1062.5,"v":1.5},{"t":1065,"v":3.9},{"t":1067.5,"v":1.4},{"t":1070,"v":0.5},{"t":1072.5,"v":1.2},{"t":1075,"v":3.5},{"t":1077.5,"v":1.1},{"t":1080,"v":0.2},{"t":1082.5,"v":0.7},{"t":1085,"v":1.2},{"t":1087.5,"v":0.6},{"t":1090,"v":0.5},{"t":1092.5,"v":0.9},{"t":1095,"v":1.9},{"t":1097,"v":0.8}]
},
"config":{
"view":{"stroke":"#444","strokeWidth":0.8},
"axis":{"grid":false,"domain":false,"tickColor":"#333","tickSize":4,"labelFont":"DejaVu Sans","labelFontSize":17,"labelColor":"#000","titleFont":"DejaVu Sans","titleFontWeight":"normal","titleFontSize":22,"titleColor":"#000"},
"axisX":{"labelPadding":1},
"axisY":{"labelPadding":4},
"title":{"font":"DejaVu Sans","fontSize":18,"fontWeight":"normal","color":"#000","offset":0,"frame":"group"},
"line":{"color":"#1f77b4","strokeWidth":1.5}
},
"vconcat":[
{"title":"none","width":516,"height":126,"data":{"name":"none"},"mark":"line","encoding":{"x":{"field":"t","type":"quantitative","scale":{"domain":[-57,1143],"nice":false,"zero":false},"axis":{"values":[0,200,400,600,800,1000],"labels":false,"title":null}},"y":{"field":"v","type":"quantitative","scale":{"domain":[-0.29,6.09],"nice":false,"zero":false},"axis":{"values":[0,2.5,5],"format":".1f","title":null}}}},
{"title":"Large conveyor","width":516,"height":126,"data":{"name":"lc"},"mark":"line","encoding":{"x":{"field":"t","type":"quantitative","scale":{"domain":[-57,1143],"nice":false,"zero":false},"axis":{"values":[0,200,400,600,800,1000],"labels":false,"title":null}},"y":{"field":"v","type":"quantitative","scale":{"domain":[-0.29,6.09],"nice":false,"zero":false},"axis":{"values":[0,2.5,5],"format":".1f","title":"Current for battery 1 in A","titlePadding":2,"titleY":218}}}},
{"title":"scara robot","width":516,"height":126,"data":{"name":"sc"},"mark":"line","encoding":{"x":{"field":"t","type":"quantitative","scale":{"domain":[-57,1143],"nice":false,"zero":false},"axis":{"values":[0,200,400,600,800,1000],"labels":false,"title":null}},"y":{"field":"v","type":"quantitative","scale":{"domain":[-0.29,6.09],"nice":false,"zero":false},"axis":{"values":[0,2.5,5],"format":".1f","title":null}}}},
{"title":"conveyor lift","width":516,"height":126,"data":{"name":"cl"},"mark":"line","encoding":{"x":{"field":"t","type":"quantitative","scale":{"domain":[-57,1143],"nice":false,"zero":false},"axis":{"values":[0,200,400,600,800,1000],"labels":false,"title":null}},"y":{"field":"v","type":"quantitative","scale":{"domain":[-0.29,6.09],"nice":false,"zero":false},"axis":{"values":[0,2.5,5],"format":".1f","title":null}}}},
{"title":"3D print platform","width":516,"height":126,"data":{"name":"p3d"},"mark":"line","encoding":{"x":{"field":"t","type":"quantitative","scale":{"domain":[-57,1143],"nice":false,"zero":false},"axis":{"values":[0,200,400,600,800,1000],"labels":false,"title":null}},"y":{"field":"v","type":"quantitative","scale":{"domain":[-0.29,6.09],"nice":false,"zero":false},"axis":{"values":[0,2.5,5],"format":".1f","title":null}}}},
{"title":"Nachi robot","width":516,"height":126,"data":{"name":"na"},"mark":"line","encoding":{"x":{"field":"t","type":"quantitative","scale":{"domain":[-57,1143],"nice":false,"zero":false},"axis":{"values":[0,200,400,600,800,1000],"format":"d","title":"Time in seconds","titlePadding":3,"titleFontSize":21}},"y":{"field":"v","type":"quantitative","scale":{"domain":[-0.29,6.09],"nice":false,"zero":false},"axis":{"values":[0,2.5,5],"format":".1f","title":null}}}}
]
}
